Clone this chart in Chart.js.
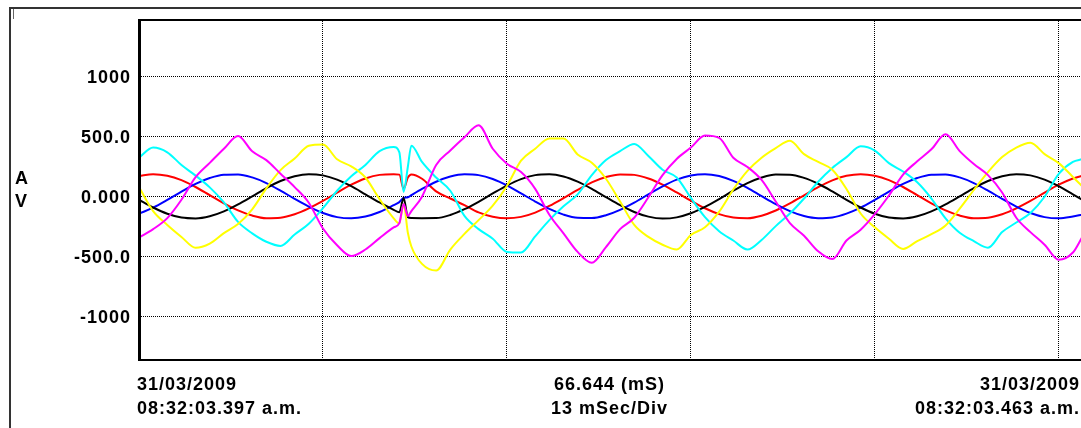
<!DOCTYPE html>
<html lang="es">
<head>
<meta charset="utf-8">
<title>Registro de forma de onda</title>
<script src="https://cdn.jsdelivr.net/npm/chart.js@4.4.1/dist/chart.umd.min.js"></script>
<style>
  html, body { margin:0; padding:0; background:#fff; overflow:hidden; }
  #wrap { position:relative; width:1081px; height:428px; overflow:hidden; background:#fff; }
  #scope { position:absolute; left:0; top:0; }
</style>
</head>
<body>
<div id="wrap"><canvas id="scope" width="1090" height="428"></canvas></div>
<script>
// ═══════════════════════════════════════════════════
//  WAVEFORM CAPTURE — 6 channels, 13 mSec/Div
// ═══════════════════════════════════════════════════

// ── SAMPLE TIMES (ms) — extra points around the transient ──
const times = [
  0, 1, 2, 3, 4, 5, 6, 7, 8, 9, 10, 11, 12, 13, 14, 15, 16, 17, 18,
  18.4, 18.7, 19, 19.25,
  20, 21, 22, 23, 24, 25, 26, 27, 28, 29, 30, 31, 32, 33, 34, 35, 36, 37, 38, 39,
  40, 41, 42, 43, 44, 45, 46, 47, 48, 49, 50, 51, 52, 53, 54, 55, 56, 57, 58, 59,
  60, 61, 62, 63, 64, 65, 66, 66.644
];

// ── CHANNELS ──────────────
const redWave = [
  174, 188, 175, 138, 81, 13, -55, -114, -157, -179, -175, -146, -97, -35, 34, 100, 152, 182, 187,
  184, 65, 160, 186,
  150, 45, -15, -70, -131, -167, -180, -168, -132, -77, -12, 57, 119, 164, 186, 182, 152, 101, 36, -33,
  -96, -145, -174, -179, -158, -115, -56, 11, 79, 136, 174, 188, 175, 138, 81, 13, -55, -114, -157, -179,
  -175, -146, -97, -35, 34, 100, 152, 174
];
const blueWave = [
  -141, -91, -27, 42, 107, 156, 184, 186, 161, 114, 51, -18, -83, -136, -170, -180, -165, -127, -70,
  -45, -10, -5, 13,
  65, 125, 168, 187, 180, 148, 95, 28, -40, -102, -149, -176, -178, -154, -109, -49, 19, 86, 142, 177,
  188, 172, 132, 74, 5, -62, -120, -161, -179, -173, -141, -91, -27, 42, 107, 156, 184, 186, 161, 114,
  51, -18, -83, -136, -170, -180, -165, -150
];
const blackWave = [
  -26, -90, -142, -174, -181, -163, -122, -64, 3, 72, 131, 171, 188, 178, 143, 88, 20, -48, -109,
  -130, -10, -170, -178,
  -179, -178, -152, -104, -42, 27, 93, 147, 180, 187, 169, 126, 66, -3, -70, -127, -166, -182, -172, -138,
  -85, -20, 50, 113, 160, 185, 184, 157, 108, 44, -26, -90, -142, -174, -181, -163, -122, -64, 3, 72,
  131, 171, 188, 178, 143, 88, 20, -24
];
const cyanWave = [
  325, 410, 370, 264, 176, 78, -47, -210, -305, -375, -410, -315, -225, -95, 50, 170, 265, 380, 415,
  370, 40, 250, 425,
  290, 160, 50, -160, -270, -350, -460, -465, -330, -195, -80, 20, 180, 306, 380, 440, 340, 225, 160, -10,
  -170, -287, -365, -440, -360, -245, -140, -15, 125, 240, 330, 420, 385, 280, 210, 120, -15, -180, -300, -370,
  -425, -295, -215, -135, 0, 190, 290, 312
];
const yellowWave = [
  80, -120, -235, -335, -425, -390, -303, -228, -105, 70, 222, 318, 425, 435, 312, 253, 160, -20, -180,
  -222, -60, -300, -415,
  -560, -615, -440, -310, -195, -75, 90, 300, 400, 485, 485, 352, 283, 150, -40, -235, -335, -400, -440, -319,
  -255, -125, 60, 215, 325, 405, 467, 355, 290, 225, 65, -140, -255, -350, -435, -370, -312, -240, -100, 56,
  205, 330, 410, 450, 355, 280, 165, 90
];
const magentaWave = [
  -340, -270, -178, -25, 163, 282, 400, 506, 378, 305, 192, 80, -50, -265, -405, -495, -440, -345, -255,
  -220, -60, -160, -120,
  0, 265, 385, 495, 595, 400, 275, 205, 65, -150, -305, -460, -550, -420, -270, -175, -5, 180, 315, 410,
  510, 490, 325, 248, 140, -40, -220, -325, -455, -520, -365, -275, -145, 10, 185, 295, 395, 520, 380, 272,
  180, 35, -175, -295, -400, -525, -465, -340
];

// ── AXES ─────────────────────────────────────────
const yTicks      = [1000, 500, 0, -500, -1000];
const yTickLabels = ['1000', '500.0', '0.000', '-500.0', '-1000'];
const xDivisions  = [0, 13, 26, 39, 52, 65];   // 13 mSec/Div
const axisUnits   = ['A', 'V'];
const footLeft    = ['31/03/2009', '08:32:03.397 a.m.'];
const footCenter  = ['66.644 (mS)', '13 mSec/Div'];
const footRight   = ['31/03/2009', '08:32:03.463 a.m.'];

const FONT = '"Liberation Sans", Arial, sans-serif';
Chart.defaults.font.family = FONT;

function serie(label, values, color) {
  return {
    label,
    data: times.map((t, i) => ({ x: t, y: values[i] })),
    borderColor: color,
    borderWidth: 2,
    pointRadius: 0,
    cubicInterpolationMode: 'monotone',
    fill: false,
  };
}

// ── FRAME + FOOTER TEXT ──────────────────────────
const scopeFrame = {
  id: 'scopeFrame',
  beforeDraw(chart) {
    chart.ctx.letterSpacing = '1px';
  },
  afterDraw(chart) {
    const { ctx, chartArea: a } = chart;
    ctx.save();
    ctx.fillStyle = '#000';
    // plot border
    ctx.fillRect(a.left - 1, a.top, 3, a.bottom - a.top);
    ctx.fillRect(a.left - 1, a.top, a.right - a.left + 1, 2);
    ctx.fillRect(a.left - 1, a.bottom - 2, a.right - a.left + 1, 2);
    // outer frame
    ctx.fillStyle = '#333';
    ctx.fillRect(9, 7, 2, 421);
    ctx.fillRect(9, 7, 1080, 2);
    ctx.fillStyle = '#666';
    ctx.fillRect(13, 9, 1, 10);

    ctx.fillStyle = '#000';
    ctx.font = 'bold 18px ' + FONT;
    ctx.letterSpacing = '1px';
    ctx.textBaseline = 'alphabetic';

    ctx.textAlign = 'left';
    ctx.fillText(axisUnits[0], 15, 184);
    ctx.fillText(axisUnits[1], 15, 207);

    const rows = [390, 414];
    const mid = (a.left + a.right) / 2;
    rows.forEach((y, i) => {
      ctx.textAlign = 'left';
      ctx.fillText(footLeft[i], 137, y);
      ctx.textAlign = 'center';
      ctx.fillText(footCenter[i], mid - 1, y);
      ctx.textAlign = 'right';
      ctx.fillText(footRight[i], 1080, y);
    });
    ctx.restore();
  },
};

// ── CHART ────────────────────────────────────────
const gridStyle = { color: '#000', lineWidth: 1, drawTicks: false };

new Chart(document.getElementById('scope'), {
  type: 'line',
  data: {
    datasets: [
      serie('Magenta', magentaWave, '#ff00ff'),
      serie('Amarillo', yellowWave, '#ffff00'),
      serie('Cian', cyanWave, '#00ffff'),
      serie('Negro', blackWave, '#000000'),
      serie('Azul', blueWave, '#0000ff'),
      serie('Rojo', redWave, '#ff0000'),
    ],
  },
  options: {
    responsive: false,
    animation: false,
    events: [],
    layout: { padding: { left: 0, right: 8, top: 19, bottom: 67 } },
    plugins: { legend: { display: false }, tooltip: { enabled: false } },
    scales: {
      x: {
        type: 'linear',
        min: 0,
        max: 66.644,
        afterBuildTicks: s => { s.ticks = xDivisions.map(v => ({ value: v })); },
        afterFit: s => { s.height = 0; },
        ticks: { display: false },
        grid: gridStyle,
        border: { display: false, dash: [1, 1] },
      },
      y: {
        min: -1369,
        max: 1481,
        afterBuildTicks: s => { s.ticks = yTicks.map(v => ({ value: v })); },
        afterFit: s => { s.width = 139; },
        ticks: {
          padding: 8,
          labelOffset: 1,
          color: '#000',
          font: { size: 18, weight: 'bold' },
          callback: (v, i) => yTickLabels[i],
        },
        grid: gridStyle,
        border: { display: false, dash: [1, 1] },
      },
    },
  },
  plugins: [scopeFrame],
});
</script>
</body>
</html>
